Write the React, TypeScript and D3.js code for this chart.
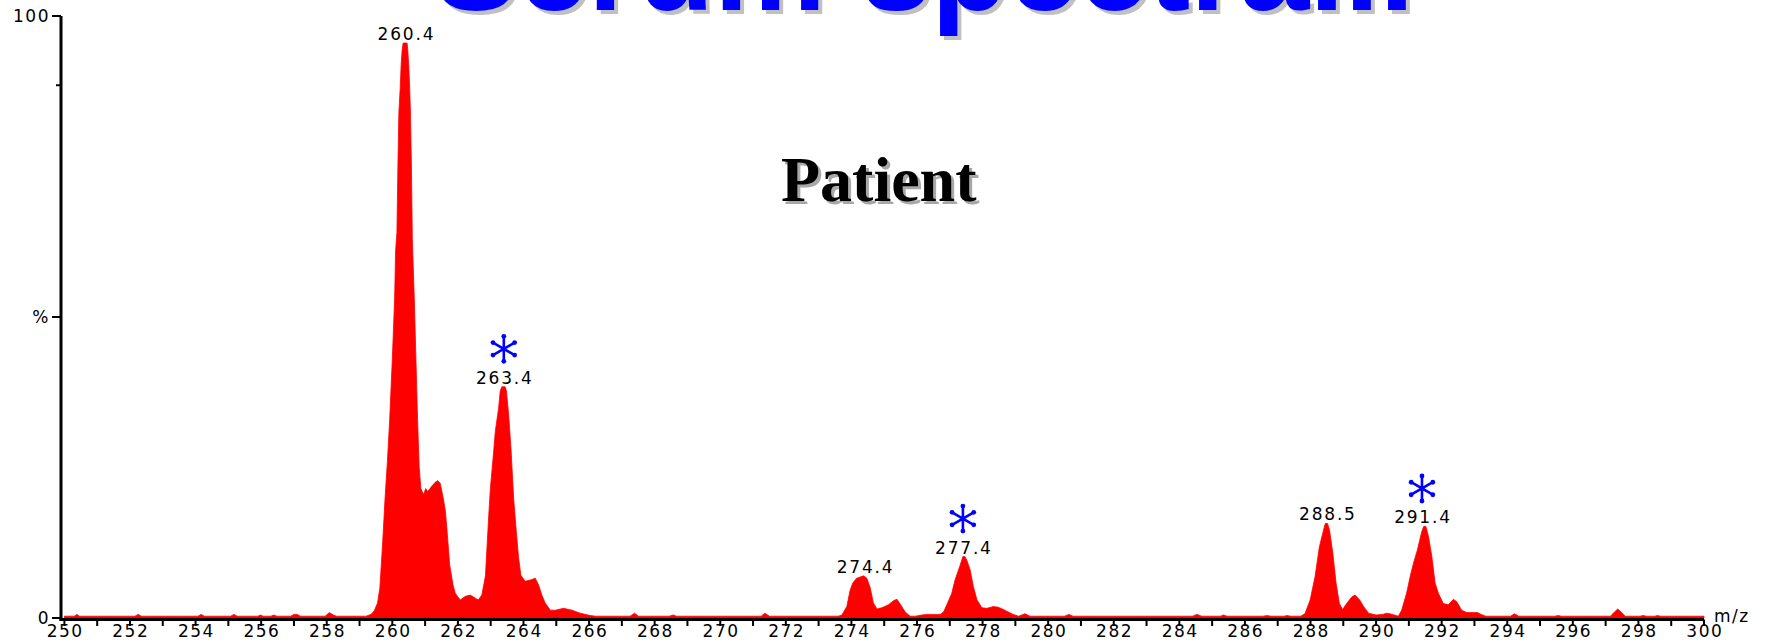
import React from "react";
import * as d3 from "d3";

// ---- Profile spectrum (m/z, relative intensity %) ----
const MZ = [
  250.0, 250.3, 250.38, 250.46, 252.15, 252.25, 252.35, 254.07, 254.17, 254.27,
  255.07, 255.17, 255.27, 255.9, 255.98, 256.06, 256.3, 256.39, 256.48, 256.9,
  257.0, 257.1, 257.2, 257.95, 258.08, 258.2, 258.3, 259.2, 259.35, 259.45,
  259.55, 259.62, 259.7, 259.78, 259.85, 259.92, 260.0, 260.07, 260.1, 260.14,
  260.17, 260.2, 260.24, 260.27, 260.3, 260.33, 260.45, 260.47, 260.5, 260.53,
  260.55, 260.58, 260.61, 260.67, 260.72, 260.77, 260.82, 260.87, 260.95, 261.02,
  261.08, 261.15, 261.22, 261.3, 261.38, 261.46, 261.55, 261.62, 261.67, 261.75,
  261.85, 261.92, 262.07, 262.23, 262.38, 262.53, 262.62, 262.73, 262.84, 262.94,
  262.99, 263.09, 263.14, 263.24, 263.29, 263.34, 263.44, 263.48, 263.55, 263.62,
  263.7, 263.78, 263.85, 263.92, 264.05, 264.21, 264.36, 264.46, 264.56, 264.66,
  264.82, 264.97, 265.22, 265.48, 265.73, 266.04, 266.2, 267.25, 267.39, 267.5,
  268.45, 268.56, 268.67, 271.25, 271.36, 271.5, 273.6, 273.71, 273.86, 273.96,
  274.04, 274.16, 274.37, 274.47, 274.57, 274.67, 274.78, 274.93, 275.13, 275.29,
  275.39, 275.49, 275.64, 275.79, 275.95, 276.15, 276.3, 276.5, 276.71, 276.81,
  276.91, 277.06, 277.16, 277.3, 277.4, 277.46, 277.52, 277.62, 277.72, 277.83,
  277.98, 278.13, 278.33, 278.47, 278.6, 278.75, 278.93, 279.1, 279.29, 279.45,
  280.5, 280.63, 280.76, 284.4, 284.54, 284.68, 285.25, 285.35, 285.45, 286.55,
  286.67, 286.8, 287.2, 287.28, 287.4, 287.7, 287.83, 287.99, 288.14, 288.27,
  288.37, 288.45, 288.52, 288.58, 288.68, 288.78, 288.88, 288.98, 289.1, 289.26,
  289.36, 289.5, 289.62, 289.77, 290.0, 290.2, 290.33, 290.5, 290.68, 290.78,
  290.93, 291.04, 291.14, 291.26, 291.39, 291.45, 291.52, 291.6, 291.7, 291.8,
  291.9, 292.05, 292.2, 292.36, 292.46, 292.61, 292.77, 292.97, 293.1, 293.2,
  293.35, 294.1, 294.22, 294.35, 295.45, 295.55, 295.65, 297.15, 297.27, 297.37,
  297.47, 297.6, 298.05, 298.14, 298.25, 298.5, 298.58, 298.68, 300.0,
];
const INTENSITY = [
  0.3, 0.3, 0.6, 0.3, 0.3, 0.6, 0.3, 0.3, 0.6, 0.3,
  0.3, 0.6, 0.3, 0.3, 0.5, 0.3, 0.3, 0.5, 0.3, 0.3,
  0.6, 0.6, 0.3, 0.3, 0.9, 0.5, 0.3, 0.3, 0.6, 1.2,
  2.5, 5, 12, 20, 26, 33, 43, 53, 61, 64,
  75, 84, 88, 92, 94.4, 95.5, 95.5, 94.4, 91.9, 88,
  84.4, 76, 63, 53, 43, 33, 25, 21.5, 20.5, 21.5,
  21, 21.5, 22, 22.5, 22.8, 22.4, 20, 17.7, 14.4, 8.8,
  5.5, 4.1, 3, 3.6, 3.8, 3.3, 3, 3.8, 7, 17,
  21.5, 27.6, 31, 34.8, 37.7, 38.4, 38.4, 37.7, 33.6, 28,
  19.9, 14.4, 10, 7.1, 6.1, 6.3, 6.6, 5.5, 3.8, 2.5,
  1.3, 1.3, 1.6, 1.3, 0.8, 0.4, 0.3, 0.3, 0.8, 0.3,
  0.3, 0.5, 0.3, 0.3, 0.8, 0.3, 0.3, 0.5, 1.9, 4.6,
  5.8, 6.6, 7, 6.6, 5.1, 2.5, 1.5, 1.7, 2.2, 2.9,
  3.1, 2.3, 1, 0.3, 0.3, 0.5, 0.6, 0.6, 0.6, 1,
  2.2, 4.1, 6.3, 8.5, 10.2, 10.2, 9.6, 8, 5.2, 3,
  1.7, 1.6, 1.9, 1.8, 1.5, 1.1, 0.6, 0.3, 0.7, 0.3,
  0.3, 0.6, 0.3, 0.3, 0.6, 0.3, 0.3, 0.5, 0.3, 0.3,
  0.4, 0.3, 0.3, 0.4, 0.3, 0.3, 0.7, 3, 6.9, 11.8,
  14, 15.7, 15.7, 14.6, 10.8, 5.8, 2.4, 1.4, 2.4, 3.5,
  3.8, 3, 1.9, 0.8, 0.5, 0.6, 0.8, 0.6, 0.3, 1.3,
  4.1, 6.9, 9.1, 11.3, 14.3, 15.2, 15.2, 13.5, 10.2, 5.8,
  4.1, 2.4, 2.2, 3.1, 2.7, 1.3, 0.9, 0.9, 0.9, 0.6,
  0.3, 0.3, 0.7, 0.3, 0.3, 0.4, 0.3, 0.3, 1, 1.5,
  1, 0.3, 0.3, 0.4, 0.3, 0.3, 0.4, 0.3, 0.3,
];

// ---- Labelled peaks ----
const PEAK_LABELS = ["260.4", "263.4", "274.4", "277.4", "288.5", "291.4"];
const PEAK_MZ = [260.4, 263.4, 274.4, 277.4, 288.5, 291.4];
const PEAK_INT = [95.5, 38.4, 7, 10.2, 15.7, 15.2];
const PEAK_STARRED = [false, true, false, true, false, true];

// ---- Axes ----
const X_TICKS = [
  250, 251, 252, 253, 254, 255, 256, 257, 258, 259, 260, 261, 262, 263, 264, 265, 266,
  267, 268, 269, 270, 271, 272, 273, 274, 275, 276, 277, 278, 279, 280, 281, 282, 283,
  284, 285, 286, 287, 288, 289, 290, 291, 292, 293, 294, 295, 296, 297, 298, 299, 300,
];
const X_TICK_LABELS = [
  250, 252, 254, 256, 258, 260, 262, 264, 266, 268, 270, 272, 274, 276, 278, 280, 282,
  284, 286, 288, 290, 292, 294, 296, 298, 300,
];
const Y_TICK_VALUES = [100, 50, 0];
const Y_TICK_LABELS = ["100", "%", "0"];
const Y_MINOR_TICKS = [88.5];

const TITLE = "Serum spectra...";
const SUBTITLE = "Patient";
const X_AXIS_TITLE = "m/z";

const W = 1767;
const H = 644;

export default function App() {
  const x = d3.scaleLinear().domain([250, 300]).range([64.4, 1704]);
  const y = d3.scaleLinear().domain([0, 100]).range([618, 16]);
  const pts: [number, number][] = MZ.map((m, i) => [m, INTENSITY[i]]);
  const area = d3
    .area<[number, number]>()
    .x((d) => x(d[0]))
    .y0(y(0))
    .y1((d) => y(d[1]))
    .curve(d3.curveLinear);

  const axisX = 61;
  const tickFont = "DejaVu Sans, Verdana, sans-serif";

  const star = (cx: number, cy: number, key: string) => {
    const r = 12.5;
    const arms = [90, 30, 150].map((a) => {
      const rad = (a * Math.PI) / 180;
      return `M${cx - r * Math.cos(rad)},${cy - r * Math.sin(rad)}L${cx + r * Math.cos(rad)},${cy + r * Math.sin(rad)}`;
    });
    const dots = [90, 30, 150, 270, 210, 330].map((a, j) => {
      const rad = (a * Math.PI) / 180;
      return (
        <circle key={key + "d" + j} cx={cx + r * Math.cos(rad)} cy={cy + r * Math.sin(rad)} r={2.4} fill="#0000ff" />
      );
    });
    return (
      <g key={key}>
        <path d={arms.join("")} stroke="#0000ff" strokeWidth={2.6} strokeLinecap="round" fill="none" />
        {dots}
      </g>
    );
  };

  return (
    <svg
      width={W}
      height={H}
      style={{ position: "absolute", left: 0, top: 0, display: "block", background: "#fff" }}
    >
      {/* Title (cut at top) */}
      <g fontFamily="Liberation Sans, Arial, sans-serif" fontWeight="bold" fontSize={126}>
        <text x={438} y={14} fill="#c0c0c0">{TITLE}</text>
        <text x={434} y={10} fill="#0000ff">{TITLE}</text>
      </g>

      {/* Subtitle */}
      <g fontFamily="Liberation Serif, Times New Roman, serif" fontWeight="bold" fontSize={64}>
        <text x={784} y={204} fill="#a8a8a8">{SUBTITLE}</text>
        <text x={781} y={201} fill="#000">{SUBTITLE}</text>
      </g>

      {/* Spectrum */}
      <path d={area(pts) || ""} fill="#ff0000" stroke="#ff0000" strokeWidth={0.8} />

      {/* X axis */}
      <line x1={axisX - 1.5} x2={x(300)} y1={y(0) + 1.5} y2={y(0) + 1.5} stroke="#000" strokeWidth={3} />
      {X_TICKS.map((t) => (
        <line key={"xt" + t} x1={x(t)} x2={x(t)} y1={y(0) + 1.5} y2={y(0) + 8} stroke="#000" strokeWidth={2} />
      ))}
      <g fontFamily={tickFont} fontSize={17} fill="#000" letterSpacing={1.5} textAnchor="middle">
        {X_TICK_LABELS.map((t) => (
          <text key={"xl" + t} x={x(t) + 0.8} y={637}>{t}</text>
        ))}
      </g>
      <text x={1714} y={622} fontFamily={tickFont} fontSize={17} letterSpacing={1.5}>{X_AXIS_TITLE}</text>

      {/* Y axis */}
      <line x1={axisX} x2={axisX} y1={y(100)} y2={y(0) + 3} stroke="#000" strokeWidth={3} />
      {Y_TICK_VALUES.map((v) => (
        <line key={"yt" + v} x1={axisX - 9} x2={axisX} y1={y(v)} y2={y(v)} stroke="#000" strokeWidth={2} />
      ))}
      {Y_MINOR_TICKS.map((v) => (
        <line key={"ym" + v} x1={axisX - 5} x2={axisX} y1={y(v)} y2={y(v)} stroke="#000" strokeWidth={2} />
      ))}
      <g fontFamily={tickFont} fontSize={17} fill="#000" letterSpacing={1.5} textAnchor="end">
        {Y_TICK_VALUES.map((v, i) => (
          <text key={"yl" + v} x={axisX - 11} y={y(v) + 6}>{Y_TICK_LABELS[i]}</text>
        ))}
      </g>

      {/* Peak labels */}
      <g fontFamily={tickFont} fontSize={17} fill="#000" letterSpacing={1.8} textAnchor="middle">
        {PEAK_MZ.map((m, i) => (
          <text key={"pl" + i} x={x(m) + 1} y={y(PEAK_INT[i]) - 3}>{PEAK_LABELS[i]}</text>
        ))}
      </g>
      {PEAK_MZ.map((m, i) => (PEAK_STARRED[i] ? star(x(m), y(PEAK_INT[i]) - 38, "st" + i) : null))}
    </svg>
  );
}
